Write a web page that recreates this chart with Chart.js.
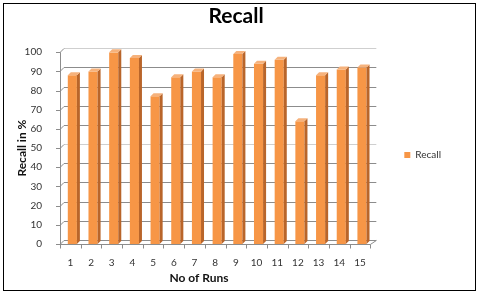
<!DOCTYPE html>
<html><head><meta charset="utf-8">
<script src="https://cdn.jsdelivr.net/npm/chart.js@4"></script>
<style>html,body{margin:0;padding:0;background:#fff}#wrap{width:485px;height:294px;position:relative}canvas{display:block}</style>
</head><body><div id="wrap"><canvas id="c" width="485" height="294"></canvas></div>
<script>
const categories = ['1','2','3','4','5','6','7','8','9','10','11','12','13','14','15'];
const recallValues = [88, 90, 100, 97, 77, 87, 90, 87, 99, 94, 96, 64, 88, 91, 92];
const yTicks = [0, 10, 20, 30, 40, 50, 60, 70, 80, 90, 100];
const chartTitle = 'Recall';
const seriesName = 'Recall';
const xTitle = 'No of Runs';
const yTitle = 'Recall in %';

const DX = 4, DY = 4, DEPTH = 3, SHIFT = 2;
const FONT = 'Lato, "Open Sans", sans-serif';

const threeD = {
  id: 'threeD',
  afterLayout(chart) {
    if (chart.legend) {
      chart.legend.top += 14; chart.legend.bottom += 14;
      chart.legend.left -= 10; chart.legend.right -= 10;
    }
  },
  beforeDraw(chart) {
    const ctx = chart.ctx;
    ctx.save();
    ctx.fillStyle = '#fff';
    ctx.fillRect(0, 0, chart.width, chart.height);
    ctx.restore();
  },
  beforeDatasetsDraw(chart) {
    const { ctx, chartArea: a, scales: { x, y } } = chart;
    ctx.save();
    ctx.lineWidth = 1;
    yTicks.forEach(v => {
      const py = Math.round(y.getPixelForValue(v)) + 0.5;
      ctx.strokeStyle = (v === 50 || v === 100) ? '#cfcfcf' : '#8c8c8c';
      ctx.beginPath();
      ctx.moveTo(a.left + DX, py - DY);
      ctx.lineTo(a.right + DX + 2, py - DY);
      ctx.stroke();
      ctx.strokeStyle = '#8c8c8c';
      ctx.beginPath();
      ctx.moveTo(a.left - 4, py);
      ctx.lineTo(a.left, py);
      ctx.lineTo(a.left + DX, py - DY);
      ctx.stroke();
    });
    ctx.strokeStyle = '#8c8c8c';
    const lx = Math.round(a.left) + 0.5;
    ctx.beginPath();
    ctx.moveTo(lx, y.getPixelForValue(100));
    ctx.lineTo(lx, a.bottom);
    ctx.stroke();
    const by = Math.round(a.bottom) + 0.5;
    ctx.beginPath();
    ctx.moveTo(a.left, by);
    ctx.lineTo(a.right, by);
    ctx.lineTo(a.right + DX + 2, by - DY);
    ctx.stroke();
    const n = categories.length;
    for (let i = 0; i <= n; i++) {
      const px = Math.round(a.left + i * a.width / n) + 0.5;
      ctx.beginPath();
      ctx.moveTo(px, by);
      ctx.lineTo(px, by + 4);
      ctx.stroke();
    }
    ctx.restore();
    ctx.save();
    ctx.translate(SHIFT, 0);
  },
  afterDatasetsDraw(chart) {
    const ctx = chart.ctx;
    const meta = chart.getDatasetMeta(0);
    meta.data.forEach(bar => {
      const p = bar.getProps(['x', 'y', 'base', 'width'], true);
      const l = p.x - p.width / 2, r = p.x + p.width / 2, t = p.y, b = p.base;
      ctx.fillStyle = '#b9652a';
      ctx.beginPath();
      ctx.moveTo(r, t); ctx.lineTo(r + DEPTH, t - DEPTH);
      ctx.lineTo(r + DEPTH, b - DEPTH); ctx.lineTo(r, b);
      ctx.closePath(); ctx.fill();
      ctx.fillStyle = '#f6b27c';
      ctx.beginPath();
      ctx.moveTo(l, t); ctx.lineTo(l + DEPTH, t - DEPTH);
      ctx.lineTo(r + DEPTH, t - DEPTH); ctx.lineTo(r, t);
      ctx.closePath(); ctx.fill();
    });
    ctx.restore();
  },
  afterDraw(chart) {
    const { ctx } = chart;
    ctx.save();
    ctx.fillStyle = '#111';
    ctx.font = 'bold 12px ' + FONT;
    ctx.textAlign = 'center';
    ctx.textBaseline = 'middle';
    ctx.fillText(xTitle, 199, 278);
    ctx.strokeStyle = '#000';
    ctx.lineWidth = 1;
    ctx.strokeRect(3.5, 3.5, 472, 287);
    ctx.restore();
  }
};

new Chart(document.getElementById('c'), {
  type: 'bar',
  data: {
    labels: categories,
    datasets: [{
      label: seriesName,
      data: recallValues,
      backgroundColor: '#f79646',
      borderWidth: 0,
      barPercentage: 0.44,
      categoryPercentage: 1
    }]
  },
  options: {
    responsive: false,
    animation: false,
    events: [],
    layout: { padding: { left: 11, right: 24, top: 0, bottom: 12 } },
    plugins: {
      title: {
        display: true, text: chartTitle, color: '#000',
        font: { family: FONT, size: 21, weight: 'bold' },
        padding: { top: 4, bottom: 23 }
      },
      legend: {
        position: 'right',
        labels: {
          boxWidth: 6, boxHeight: 6, padding: 44, color: '#333',
          font: { family: FONT, size: 10 }
        }
      },
      tooltip: { enabled: false }
    },
    scales: {
      x: {
        grid: { display: false, drawTicks: false },
        border: { display: false },
        ticks: { color: '#333', padding: 13, font: { family: FONT, size: 10 }, maxRotation: 0 }
      },
      y: {
        min: 0, max: 100,
        afterBuildTicks: s => { s.ticks = yTicks.map(v => ({ value: v })); },
        afterFit: s => { s.width = 49; },
        grid: { display: false, drawTicks: false },
        border: { display: false },
        ticks: { color: '#333', padding: 18, font: { family: FONT, size: 10 } },
        title: {
          display: true, text: yTitle, color: '#111',
          font: { family: FONT, size: 12, weight: 'bold' },
          padding: { top: 4, bottom: 4 }
        }
      }
    }
  },
  plugins: [threeD]
});
</script>
</body></html>
